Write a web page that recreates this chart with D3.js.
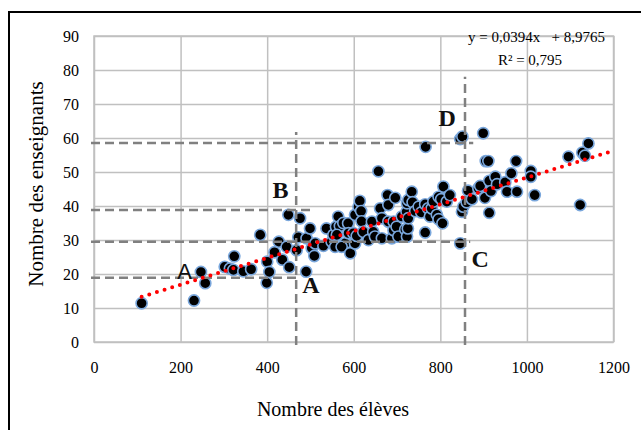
<!DOCTYPE html>
<html>
<head>
<meta charset="utf-8">
<script src="https://cdn.jsdelivr.net/npm/d3@7"></script>
<style>
  body { margin: 0; background: #fff; }
  text { font-family: "Liberation Serif", "Times New Roman", serif; }
</style>
</head>
<body>
<svg id="chart" width="641" height="430"></svg>
<script>
// Number of pupils per school (x) and number of teachers (y)
const eleves = [
  110, 231, 247, 257, 302, 314, 322, 324, 345, 363,
  384, 400, 399, 405, 417, 427, 435, 445, 451, 449,
  468, 472, 476, 490, 491, 499, 503, 509, 511, 530,
  537, 549, 553, 557, 559, 564, 568, 576, 561, 580,
  572, 587, 588, 592, 599, 603, 603, 607, 611, 614,
  617, 618, 622, 634, 642, 645, 649, 657, 661, 665,
  665, 678, 680, 680, 688, 692, 692, 696, 699, 703,
  711, 719, 722, 723, 723, 725, 726, 726, 734, 736,
  742, 750, 756, 765, 765, 766, 772, 776, 780, 784,
  792, 796, 796, 802, 805, 807, 815, 822, 846, 846,
  851, 850, 853, 861, 864, 873, 888, 892, 899, 903,
  905, 911, 913, 913, 917, 927, 931, 950, 954, 964,
  975, 977, 1009, 1009, 1018, 1096, 1123, 1128, 1134, 1142
];
const enseignants = [
  11.4, 12.2, 20.6, 17.3, 22.1, 21.6, 21.2, 25.2, 20.8, 21.4,
  31.5, 23.6, 17.4, 20.6, 26.4, 29.5, 24.2, 28.0, 22.0, 37.4,
  27.0, 30.8, 36.4, 20.7, 30.5, 33.4, 27.6, 25.3, 29.0, 28.3,
  33.4, 29.5, 31.5, 28.0, 33.9, 36.9, 34.1, 35.0, 31.5, 29.0,
  28.0, 34.9, 32.0, 26.1, 32.0, 29.0, 37.4, 31.2, 39.8, 41.5,
  38.5, 35.5, 32.4, 30.0, 35.4, 32.4, 31.0, 50.2, 39.3, 36.4,
  30.5, 43.2, 40.3, 35.4, 30.5, 32.9, 35.4, 42.4, 33.9, 31.0,
  36.9, 33.1, 38.3, 40.8, 31.0, 33.4, 41.8, 36.4, 44.2, 41.1,
  38.5, 39.8, 38.1, 40.5, 32.2, 57.4, 39.3, 36.9, 39.3, 41.3,
  37.4, 42.7, 36.1, 42.0, 34.9, 45.7, 41.3, 43.2, 29.0, 59.7,
  60.4, 38.3, 39.8, 41.1, 44.5, 42.0, 45.2, 45.9, 61.4, 42.4,
  53.2, 53.2, 47.4, 38.0, 44.4, 48.6, 46.4, 47.0, 44.2, 49.6,
  53.2, 44.2, 50.3, 48.6, 43.2, 54.5, 40.3, 55.7, 54.8, 58.4
];

const xTicks = [0, 200, 400, 600, 800, 1000, 1200];
const yTicks = [0, 10, 20, 30, 40, 50, 60, 70, 80, 90];

// Linear trend reported on the chart
const slope = 0.0394;
const intercept = 8.9765;
const trendFrom = 110;
const trendTo = 1187;
const equationLabel = "y = 0,0394x   + 8,9765";
const r2Label = "R\u00b2 = 0,795";

// Reference guides (data units): horizontal level, extent along x
const guideLevels = [58.5, 38.8, 29.5, 18.9];
const guideLevelEnds = [876, 506, 869, 470];
// Vertical guides: pupil count and height reached
const guideCuts = [467, 857];
const guideCutTops = [61.8, 78];

// Letters marking the zones
const zoneLetters = ["A", "B", "A", "C", "D"];
const zoneX = [209, 431, 501, 892, 816];
const zoneY = [18.5, 42.4, 14.4, 22.1, 63.5];
const zoneSerif = [false, true, true, true, true];

const xTitle = "Nombre des élèves";
const yTitle = "Nombre des enseignants";

const svg = d3.select("#chart");
const x = d3.scaleLinear().domain([0, 1200]).range([94, 613.5]);
const y = d3.scaleLinear().domain([0, 90]).range([342, 36]);

// Outer frame
svg.append("rect")
  .attr("x", 9).attr("y", 12).attr("width", 660).attr("height", 440)
  .attr("fill", "none").attr("stroke", "#000").attr("stroke-width", 2);

// Grid + tick labels
const gx = svg.append("g").attr("transform", `translate(0,${y(0)})`)
  .call(d3.axisBottom(x).tickValues(xTicks).tickFormat(d3.format("d"))
    .tickSize(-(y(0) - y(90))).tickPadding(20));
const gy = svg.append("g").attr("transform", `translate(${x(0)},0)`)
  .call(d3.axisLeft(y).tickValues(yTicks).tickFormat(d3.format("d"))
    .tickSize(-(x(1200) - x(0))).tickPadding(15));
[gx, gy].forEach(g => {
  g.select(".domain").remove();
  g.selectAll(".tick line").attr("stroke", "#c0c0c0").attr("stroke-width", 1.5);
  g.selectAll(".tick text").attr("fill", "#000")
    .style("font-family", "'Liberation Serif', serif").style("font-size", "16px");
});
svg.append("rect")
  .attr("x", x(0)).attr("y", y(90))
  .attr("width", x(1200) - x(0)).attr("height", y(0) - y(90))
  .attr("fill", "none").attr("stroke", "#c0c0c0").attr("stroke-width", 1.5);

// Scatter points
const pts = eleves.map((v, i) => ({ e: v, n: enseignants[i] }));
svg.append("g").selectAll("circle").data(pts).join("circle")
  .attr("cx", d => x(d.e)).attr("cy", d => y(d.n)).attr("r", 5.6)
  .attr("fill", "#000").attr("stroke", "#7aa7dc").attr("stroke-width", 1.6);

// Dashed guides
const guides = svg.append("g").attr("stroke", "#808080").attr("stroke-width", 2.5)
  .attr("stroke-dasharray", "9,5").attr("fill", "none");
guideLevels.forEach((lv, i) => {
  guides.append("line")
    .attr("x1", x(0) - 3).attr("x2", x(guideLevelEnds[i]))
    .attr("y1", y(lv)).attr("y2", y(lv));
});
guideCuts.forEach((c, i) => {
  guides.append("line")
    .attr("x1", x(c)).attr("x2", x(c))
    .attr("y1", y(0) + 3).attr("y2", y(guideCutTops[i]));
});

// Trend line (dotted red)
svg.append("line")
  .attr("x1", x(trendFrom)).attr("y1", y(slope * trendFrom + intercept))
  .attr("x2", x(trendTo)).attr("y2", y(slope * trendTo + intercept))
  .attr("stroke", "#ff0000").attr("stroke-width", 4)
  .attr("stroke-linecap", "round").attr("stroke-dasharray", "0,8");

// Zone letters
zoneLetters.forEach((t, i) => {
  svg.append("text")
    .attr("x", x(zoneX[i])).attr("y", y(zoneY[i]))
    .attr("text-anchor", "middle")
    .style("font-family", zoneSerif[i] ? "'Liberation Serif', serif" : "'Liberation Sans', Arial, sans-serif")
    .style("font-weight", zoneSerif[i] ? "bold" : "normal")
    .style("font-size", zoneSerif[i] ? "24px" : "22px")
    .attr("fill", "#111")
    .text(t);
});

// Equation and R²
svg.append("text").attr("x", 605).attr("y", 42).attr("text-anchor", "end")
  .style("font-size", "15px").style("white-space", "pre").attr("fill", "#000")
  .text(equationLabel);
svg.append("text").attr("x", 530).attr("y", 65).attr("text-anchor", "middle")
  .style("font-size", "15px").attr("fill", "#000")
  .text(r2Label);

// Axis titles
svg.append("text").attr("x", 333).attr("y", 416).attr("text-anchor", "middle")
  .style("font-size", "20px").attr("fill", "#000").text(xTitle);
svg.append("text").attr("transform", "translate(43,184) rotate(-90)")
  .attr("text-anchor", "middle").style("font-size", "21px").attr("fill", "#000")
  .text(yTitle);
</script>
</body>
</html>
